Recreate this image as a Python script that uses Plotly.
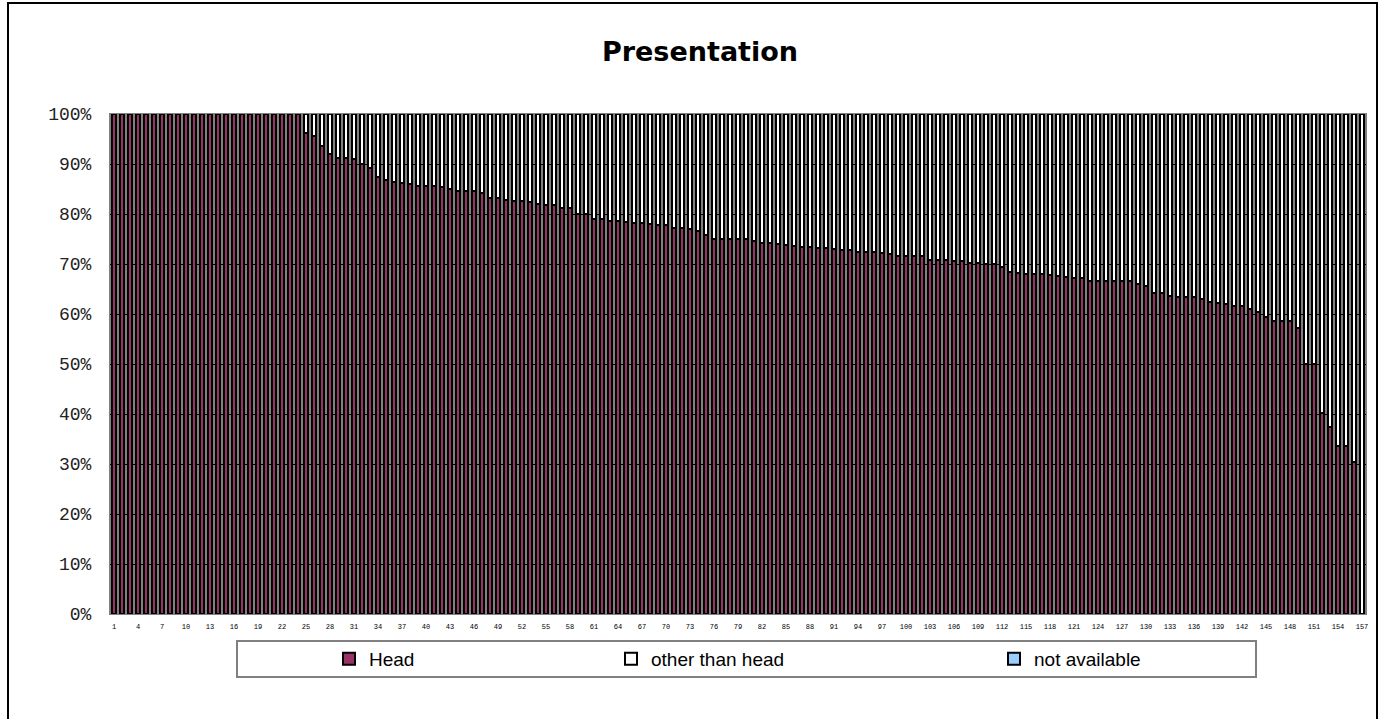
import plotly.graph_objects as go

categories = [str(i) for i in range(1, 158)]

head = [100.0] * 24 + [
    96.3, 95.6, 93.7, 92.0, 91.2, 91.2, 91.0, 90.0, 89.2, 87.5,
    86.8, 86.4, 86.2, 86.0, 85.7, 85.7, 85.7, 85.4, 85.0, 84.6,
    84.6, 84.6, 84.2, 83.3, 83.3, 82.9, 82.6, 82.6, 82.4, 82.1,
    81.9, 81.8, 81.3, 81.3, 80.0, 80.0, 79.0, 79.0, 78.7, 78.7,
    78.5, 78.3, 78.2, 78.1, 77.9, 77.9, 77.3, 77.2, 77.0, 76.6,
    75.8, 75.0, 75.0, 75.0, 75.0, 75.0, 74.7, 74.2, 74.2, 74.1,
    73.9, 73.7, 73.5, 73.4, 73.2, 73.2, 73.0, 72.8, 72.8, 72.5,
    72.4, 72.4, 72.2, 72.0, 71.7, 71.6, 71.6, 71.6, 70.9, 70.8,
    70.8, 70.7, 70.7, 70.3, 70.3, 70.1, 70.1, 69.5, 68.5, 68.3,
    68.1, 68.0, 68.0, 67.9, 67.7, 67.5, 67.3, 67.3, 66.7, 66.7,
    66.7, 66.7, 66.7, 66.7, 66.1, 65.6, 64.3, 64.3, 63.7, 63.5,
    63.5, 63.5, 63.1, 62.5, 62.2, 62.0, 61.7, 61.6, 61.1, 60.4,
    59.5, 58.7, 58.7, 58.7, 57.3, 50.0, 50.0, 40.3, 37.5, 33.6,
    33.6, 30.4, 0.0,
]
not_available = [0.0] * 157
other_than_head = [round(100.0 - h - n, 1) for h, n in zip(head, not_available)]

tick_vals = categories[::3]
y_ticks = list(range(0, 101, 10))
y_tick_text = [f"{v}%" for v in y_ticks]

W, H = 1383, 719
# plot area in page coordinates
PL, PR, PT, PB = 110, 1366, 114, 614
L, R, T, B = PL, W - PR, PT, H - PB
pw, ph = W - L - R, H - T - B


def px(x):
    return (x - L) / pw


def py(y):
    return (H - B - y) / ph


line = dict(color="black", width=2)
fig = go.Figure()
fig.add_trace(go.Bar(x=categories, y=head, name="Head",
                     marker=dict(color="#993366", line=line), legend="legend"))
fig.add_trace(go.Bar(x=categories, y=other_than_head, name="other than head",
                     marker=dict(color="white", line=line), legend="legend2"))
fig.add_trace(go.Bar(x=categories, y=not_available, name="not available",
                     marker=dict(color="#99CCFF", line=line), legend="legend3"))

legend_font = dict(family="Liberation Sans", size=19, color="black")
common = dict(orientation="h", xanchor="left", yanchor="middle", font=legend_font,
              bgcolor="rgba(0,0,0,0)", borderwidth=0, itemwidth=30)

fig.update_layout(
    width=W, height=H,
    margin=dict(l=L, r=R, t=T, b=B),
    paper_bgcolor="white",
    plot_bgcolor="#808080",
    barmode="stack",
    bargap=0.5,
    title=dict(text="<b>Presentation</b>", xref="container", x=700 / W, xanchor="center",
               y=1 - 52 / H, yanchor="middle",
               font=dict(family="DejaVu Sans", size=27, color="black")),
    showlegend=True,
    legend=dict(x=px(329), y=py(659), **common),
    legend2=dict(x=px(611), y=py(659), **common),
    legend3=dict(x=px(994), y=py(659), **common),
    xaxis=dict(type="category", tickmode="array", tickvals=tick_vals, ticktext=tick_vals,
               tickfont=dict(family="Liberation Mono", size=7, color="black"),
               tickangle=0, showgrid=False, showline=True, linecolor="#808080", linewidth=1,
               mirror=True, ticks="", ticklabelstandoff=6),
    yaxis=dict(range=[0, 100], tickmode="array", tickvals=y_ticks, ticktext=y_tick_text,
               tickfont=dict(family="Liberation Mono", size=18, color="#222222"),
               showgrid=True, gridcolor="black", gridwidth=1, zeroline=False,
               showline=True, linecolor="#808080", linewidth=1, mirror=True,
               ticks="", ticklabelstandoff=14),
    shapes=[
        dict(type="rect", xref="paper", yref="paper",
             x0=px(8), x1=px(1377), y0=py(H + 10), y1=py(3),
             line=dict(color="black", width=2), fillcolor="rgba(0,0,0,0)", layer="above"),
        dict(type="rect", xref="paper", yref="paper",
             x0=px(237), x1=px(1256), y0=py(677), y1=py(641),
             line=dict(color="#808080", width=2), fillcolor="rgba(0,0,0,0)", layer="above"),
    ],
)

fig.write_html("out.html", config={"displayModeBar": False},
               post_script="document.body.style.margin='0';document.body.style.overflow='hidden';")
